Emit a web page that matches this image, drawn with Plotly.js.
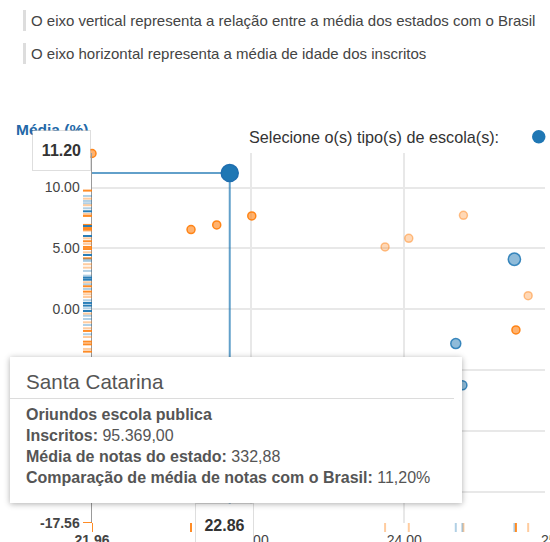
<!DOCTYPE html>
<html>
<head>
<meta charset="utf-8">
<script src="https://cdn.plot.ly/plotly-3.0.1.min.js"></script>
<style>
html,body{margin:0;padding:0;width:550px;height:542px;overflow:hidden;background:#fff;font-family:"Liberation Sans",Arial,sans-serif;}
#chart{position:absolute;left:0;top:0;width:550px;height:542px;}
.nota{position:absolute;left:23px;border-left:3px solid #dddddd;padding-left:5px;font-size:15px;color:#444;line-height:21px;white-space:nowrap;}
#tip{position:absolute;left:10px;top:357px;width:452px;height:146px;background:#fff;box-shadow:0 1px 6px rgba(0,0,0,0.32);color:#555;}
#tip .titulo{font-size:20.6px;line-height:24px;padding:13px 0 0 16px;height:28px;border-bottom:1.5px solid #dcdcdc;margin-right:8px;}
#tip .linhas{padding:5px 0 0 16px;font-size:16px;line-height:21px;white-space:nowrap;}
#tip b{font-weight:bold;}
</style>
</head>
<body>
<div id="chart"></div>
<div class="nota" id="nota1" style="top:10px"></div>
<div class="nota" id="nota2" style="top:43px"></div>
<div id="tip">
  <div class="titulo" id="tipTitulo"></div>
  <div class="linhas" id="tipLinhas"></div>
</div>
<script>
// ---------- texts ----------
const notas = [
  "O eixo vertical representa a relação entre a média dos estados com o Brasil",
  "O eixo horizontal representa a média de idade dos inscritos"
];
const eixoYTitulo = "Média (%)";
const legendaTitulo = "Selecione o(s) tipo(s) de escola(s):";

// ---------- axes ----------
const xMin = 21.96, xMax = 24.92;
const yMin = -17.56, yMax = 12.84;
const xTickVals = [21.96, 23, 24];
const xTickText = ["<b>21.96</b>", "23.00", "24.00"];
const xTickExtra = "25.00";
const yTickVals = [-17.56, -15, -10, -5, 0, 5, 10];
// labels -15, -10 and -5 are hidden by the tooltip in the reference
const yTickText = ["<b>-17.56</b>", "", "", "", "0.00", "5.00", "10.00"];

// ---------- points (idade média, comparação %, inscritos) ----------
const pontoIdade     = [21.96, 22.86, 22.607, 22.775, 23.004, 23.875, 24.03, 24.387, 24.72, 24.81, 24.73, 24.337, 24.38];
const pontoMedia     = [12.80, 11.20, 6.55,   6.93,   7.67,   5.12,   5.83,  7.72,   4.11,  1.12,  -1.70, -2.82,  -6.25];
const pontoInscritos = [16000, 95369, 13000,  13000,  21000,  11500,  11500, 11500,  50000, 11000, 9500,  33000,  27000];
const pontoTipo      = ["privada","publica","privada","privada","privada","privada","privada","privada","publica","privada","privada","publica","publica"];
const pontoTom       = ["forte","destaque","forte","forte","forte","fraco","fraco","fraco","fraco","fraco","forte","fraco","fraco"];

// ---------- rug on the vertical axis ----------
const rugMedia = [9.75, 9.31, 9.09, 8.90, 8.71, 8.55, 8.30, 8.05, 7.83, 7.67, 6.93, 6.84, 6.68, 6.55, 6.46, 6.02, 5.83, 5.59, 5.37, 5.12,
  4.95, 4.68, 4.46, 4.19, 4.11, 3.97, 3.70, 3.42, 3.15, 2.76, 2.60, 2.43, 2.22, 2.05, 1.89, 1.67, 1.45, 1.23, 1.01, 0.74,
  0.52, 0.30, 0.08, -0.14, -0.36, -0.53, -0.80, -1.07, -1.29, -1.56, -1.78, -2.05, -2.28, -2.66, -2.88, -3.26, -3.48, -17.56];
const rugTipo = ["privada","publica","privada","publica","publica","privada","publica","publica","privada","privada","privada","publica","privada","privada","privada","publica","privada","privada","privada","privada",
  "privada","privada","publica","privada","publica","publica","privada","privada","publica","publica","publica","publica","privada","publica","privada","publica","privada","privada","privada","publica",
  "publica","publica","publica","publica","privada","publica","publica","privada","publica","privada","privada","publica","privada","privada","privada","privada","privada","privada"];
const rugTom = ["forte","fraco","fraco","fraco","fraco","fraco","fraco","forte","fraco","forte","forte","forte","forte","forte","fraco","forte","fraco","forte","fraco","forte",
  "forte","fraco","forte","forte","fraco","fraco","fraco","fraco","fraco","fraco","forte","forte","fraco","fraco","forte","fraco","forte","fraco","fraco","fraco",
  "forte","forte","fraco","forte","fraco","fraco","fraco","fraco","fraco","fraco","forte","fraco","fraco","forte","forte","fraco","forte","forte"];

// ---------- hovered state ----------
const destaqueEstado = "Santa Catarina";
const destaqueTipo = "Oriundos escola publica";
const destaqueInscritos = "95.369,00";
const destaqueNota = "332,88";
const destaqueComparacao = "11,20%";
const destaqueIdade = 22.86;
const destaqueMedia = 11.20;

// ---------- styles ----------
const estiloPonto = {
  publica: {destaque: ["rgba(31,119,180,1)", "rgba(31,110,175,1)"], fraco: ["rgba(31,119,180,0.5)", "rgba(31,119,180,0.85)"], forte: ["rgba(31,119,180,0.75)", "rgba(31,119,180,1)"]},
  privada: {forte: ["rgba(255,127,14,0.6)", "rgba(255,127,14,0.95)"], fraco: ["rgba(255,127,14,0.3)", "rgba(255,127,14,0.45)"], destaque: ["rgba(255,127,14,1)", "rgba(255,127,14,1)"]}
};
const estiloRug = {
  publica: {forte: "rgba(31,119,180,0.95)", fraco: "rgba(31,119,180,0.35)"},
  privada: {forte: "rgba(255,127,14,0.9)", fraco: "rgba(255,127,14,0.4)"}
};

document.getElementById("nota1").textContent = notas[0];
document.getElementById("nota2").textContent = notas[1];
document.getElementById("tipTitulo").textContent = destaqueEstado;
document.getElementById("tipLinhas").innerHTML =
  "<b>" + destaqueTipo + "</b><br>" +
  "<b>Inscritos:</b> " + destaqueInscritos + "<br>" +
  "<b>Média de notas do estado:</b> " + destaqueNota + "<br>" +
  "<b>Comparação de média de notas com o Brasil:</b> " + destaqueComparacao;

const FONT = '"Liberation Sans", Arial, sans-serif';

const trace = {
  type: "scatter", mode: "markers",
  x: pontoIdade, y: pontoMedia,
  cliponaxis: false,
  hoverinfo: "skip",
  marker: {
    size: pontoInscritos, sizemode: "area", sizeref: 660, sizemin: 4, opacity: 1,
    color: pontoTipo.map((t, i) => estiloPonto[t][pontoTom[i]][0]),
    line: {width: 1.5, color: pontoTipo.map((t, i) => estiloPonto[t][pontoTom[i]][1])}
  },
  showlegend: false
};

const shapes = [];
// drop lines of hovered point
shapes.push({type: "line", layer: "between", xref: "x", yref: "y", x0: destaqueIdade, x1: destaqueIdade, y0: destaqueMedia, y1: yMin,
  line: {color: "rgba(31,119,180,0.7)", width: 2}});
shapes.push({type: "line", layer: "between", xref: "x", yref: "y", x0: xMin, x1: destaqueIdade, y0: destaqueMedia, y1: destaqueMedia,
  line: {color: "rgba(31,119,180,0.7)", width: 2}});
// y rug
rugMedia.forEach((v, i) => shapes.push({
  type: "line", layer: "above", xref: "paper", xsizemode: "pixel", xanchor: 0, x0: -9, x1: 0,
  yref: "y", y0: v, y1: v, line: {color: estiloRug[rugTipo[i]][rugTom[i]], width: 2}
}));
// x rug (from the points)
pontoIdade.forEach((v, i) => shapes.push({
  type: "line", layer: "above", yref: "paper", ysizemode: "pixel", yanchor: 0, y0: 0, y1: -9,
  xref: "x", x0: v, x1: v, line: {color: estiloRug[pontoTipo[i]][pontoTom[i] === "destaque" ? "forte" : pontoTom[i]], width: 2}
}));
// legend glyph
shapes.push({type: "circle", xref: "paper", yref: "paper", xsizemode: "pixel", ysizemode: "pixel", xanchor: 1, yanchor: 1,
  x0: -13, x1: 0.5, y0: 9.5, y1: 23, fillcolor: "rgb(31,119,180)", line: {width: 0}});

const annotations = [
  {text: "<b>" + eixoYTitulo + "</b>", xref: "paper", yref: "paper", x: 0, y: 1, xanchor: "left", yanchor: "middle",
   xshift: -78, yshift: 24, showarrow: false, font: {family: FONT, size: 15.5, color: "#2368a8"}},
  {text: legendaTitulo, xref: "paper", yref: "paper", x: 0, y: 1, xanchor: "left", yanchor: "middle",
   xshift: 155, yshift: 16, showarrow: false, font: {family: FONT, size: 16.2, color: "#333"}},
  {text: "<b>" + destaqueMedia.toFixed(2) + "</b>", xref: "paper", yref: "y", x: 0, y: destaqueMedia, xanchor: "right", yanchor: "bottom",
   xshift: -1, yshift: 2, showarrow: false, width: 57, height: 39, bgcolor: "#fff", bordercolor: "rgba(0,0,0,0.13)", borderwidth: 1, borderpad: 0,
   font: {family: FONT, size: 16, color: "#333"}},
  {text: "<b>" + destaqueIdade.toFixed(2) + "</b>", xref: "x", yref: "paper", x: destaqueIdade, y: 0, xanchor: "center", yanchor: "top",
   xshift: -5, yshift: 20, showarrow: false, width: 57, height: 42, bgcolor: "#fff", bordercolor: "rgba(0,0,0,0.13)", borderwidth: 1, borderpad: 0,
   font: {family: FONT, size: 16, color: "#333"}},
  {text: xTickExtra, xref: "paper", yref: "paper", x: 1, y: 0, xanchor: "center", yanchor: "top", xshift: 13, yshift: -7,
   showarrow: false, font: {family: FONT, size: 14, color: "#444"}}
];

const layout = {
  width: 550, height: 542,
  margin: {l: 92, r: 5, t: 153, b: 19, pad: 0},
  paper_bgcolor: "rgba(0,0,0,0)", plot_bgcolor: "rgba(0,0,0,0)",
  font: {family: FONT, size: 14, color: "#444"},
  xaxis: {range: [xMin, xMax], tickvals: xTickVals, ticktext: xTickText, showgrid: true, gridcolor: "#e8e8e8", gridwidth: 2,
    zeroline: false, showline: false, ticks: "outside", ticklen: 4, tickcolor: "rgba(0,0,0,0)", tickfont: {size: 14, color: "#444"}, fixedrange: true},
  yaxis: {range: [yMin, yMax], tickvals: yTickVals, ticktext: yTickText, showgrid: true, gridcolor: "#e8e8e8", gridwidth: 2,
    zeroline: false, showline: true, linecolor: "#9a9a9a", linewidth: 1.5, ticks: "outside", ticklen: 8, tickcolor: "rgba(0,0,0,0)",
    tickfont: {size: 14, color: "#444"}, fixedrange: true},
  shapes: shapes,
  annotations: annotations,
  showlegend: false
};

Plotly.newPlot("chart", [trace], layout, {displayModeBar: false, staticPlot: true});
</script>
</body>
</html>
